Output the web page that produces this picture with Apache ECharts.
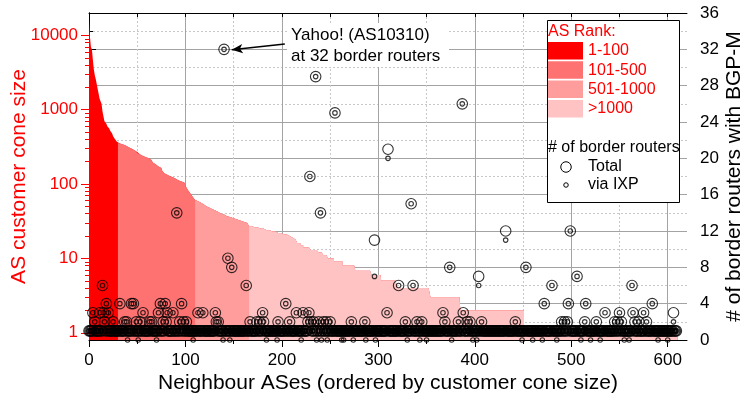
<!DOCTYPE html>
<html><head><meta charset="utf-8">
<script src="https://cdn.jsdelivr.net/npm/echarts@6/dist/echarts.min.js"></script>
<style>html,body{margin:0;padding:0;background:#fff}#c{width:749px;height:407px}</style>
</head><body><div id="c"></div>
<script>
// customer cone size of each neighbour AS (sorted)
const coneSize = [
16000,9500,7000,6500,4700,3500,2900,2600,2500,1900,
1800,1400,1300,1200,950,900,700,680,650,600,
590,560,520,500,480,440,420,400,380,370,
356,352,348,345,342,340,335,330,325,318,
314,310,306,300,295,290,285,280,275,270,
262,255,250,245,242,238,235,232,229,226,
224,222,220,218,210,200,195,190,185,180,
176,173,170,168,165,160,150,145,140,137,
134,131,129,127,126,125,124,123,120,118,
116,114,112,110,109,108,107,106,104,100,
95,90,85,80,78,75,72,70,66,63,
61,60,59,58,57,56,55,54,53,52,
51,50,49,48,48,47,46,46,45,44,
44,43,42,42,41,41,40,40,39,39,
38,38,37,37,36,36,35,35,35,34,
34,34,33,33,33,32,32,32,32,31,
31,31,31,30,30,30,27,27,27,27,
27,26,26,26,26,26,26,25,25,25,
25,25,25,24,24,24,24,24,24,23,
23,23,23,23,23,22,22,22,22,22,
22,21,21,21,21,20,20,20,20,19,
19,19,18,18,17,17,16,16,16,15,
15,15,14,14,14,14,14,14,14,14,
13,13,13,13,13,13,13,13,12,12,
12,12,12,11,11,11,11,11,10,10,
10,10,10,10,9,9,9,9,9,9,
9,9,9,8,8,8,8,8,8,8,
8,8,8,8,8,8,7,7,7,7,
7,7,7,7,7,7,7,7,7,7,
7,7,7,6,6,6,6,6,6,6,
6,6,6,5,5,5,5,5,5,5,
5,5,5,5,5,5,5,5,5,4,
4,4,4,4,4,4,4,4,4,4,
4,4,4,4,4,4,4,4,4,4,
4,4,4,4,4,4,4,4,4,4,
4,4,4,4,3,3,3,3,3,3,
3,3,3,3,3,3,3,3,3,3,
3,3,3,3,3,3,3,3,3,3,
3,3,3,3,3,2,2,2,2,2,
2,2,2,2,2,2,2,2,2,2,
2,2,2,2,2,2,2,2,2,2,
2,2,2,2,2,2,2,2,2,2,
2,2,2,2,2,2,2,2,2,2,
2,2,2,2,2,2,2,2,2,2,
2,2,2,2,2,2,2,2,2,2,
2,1,1,1,1,1,1,1,1,1,
1,1,1,1,1,1,1,1,1,1,
1,1,1,1,1,1,1,1,1,1,
1,1,1,1,1,1,1,1,1,1,
1,1,1,1,1,1,1,1,1,1,
1,1,1,1,1,1,1,1,1,1,
1,1,1,1,1,1,1,1,1,1,
1,1,1,1,1,1,1,1,1,1,
1,1,1,1,1,1,1,1,1,1,
1,1,1,1,1,1,1,1,1,1,
1,1,1,1,1,1,1,1,1,1,
1,1,1,1,1,1,1,1,1,1,
1,1,1,1,1,1,1,1,1,1,
1,1,1,1,1,1,1,1,1,1,
1,1,1,1,1,1,1,1,1,1,
1,1,1,1,1,1,1,1,1,1
];
// total number of border routers with BGP-M per neighbour
const totalRouters = [
1,1,1,1,3,1,2,1,1,1,
1,3,1,1,6,3,2,1,4,1,
3,1,1,1,1,2,1,1,1,1,
1,1,4,1,1,1,1,2,1,2,
1,1,1,1,4,1,4,1,1,2,
1,1,1,2,1,1,3,1,1,1,
1,1,1,2,1,2,1,1,1,1,
1,1,3,1,4,1,1,2,1,4,
2,3,1,1,1,1,1,3,1,1,
1,14,1,1,2,1,4,1,2,1,
1,2,1,1,1,1,1,1,1,1,
1,1,1,3,1,1,1,1,3,1,
1,1,1,1,1,1,1,1,1,1,
1,3,2,1,2,1,1,1,1,1,
32,1,1,1,9,1,1,1,8,1,
1,1,1,1,1,1,1,1,1,1,
1,1,1,6,1,1,1,2,1,1,
1,1,1,1,2,1,1,2,1,1,
3,2,1,1,1,1,1,1,1,1,
1,1,1,1,1,1,2,1,1,1,
1,1,1,1,4,1,1,1,2,1,
1,1,1,1,1,3,1,1,1,1,
1,1,3,1,1,1,1,2,3,18,
2,1,1,2,1,29,1,1,2,1,
14,1,1,2,1,1,2,1,1,1,
2,1,1,1,1,25,1,1,1,1,
1,1,1,1,1,1,1,1,1,1,
1,1,2,1,1,1,1,1,1,1,
1,1,1,1,1,1,2,1,1,1,
1,1,1,1,1,1,11,1,1,1,
1,1,1,1,1,1,1,1,1,3,
21,1,1,1,1,1,1,1,1,1,
1,6,1,1,1,1,1,1,2,1,
1,1,1,1,15,1,6,1,1,1,
2,1,1,1,1,2,1,1,1,1,
1,1,1,1,1,1,1,1,1,1,
1,1,1,1,1,1,1,3,1,2,
1,1,1,1,8,1,1,1,1,1,
1,1,1,2,1,1,1,26,3,1,
1,1,2,1,1,2,1,1,1,1,
1,1,1,1,7,1,1,2,1,1,
1,1,1,1,1,1,1,1,1,1,
1,1,1,1,1,1,1,1,1,1,
1,1,12,1,1,1,1,1,1,1,
1,1,2,1,1,1,1,1,1,1,
1,1,1,8,1,1,1,1,1,1,
1,1,1,1,1,1,1,1,1,1,
1,1,4,1,1,1,1,1,1,1,
6,1,1,1,1,1,1,1,1,1,
2,1,1,2,1,1,2,4,1,12,
1,1,1,1,1,1,7,1,1,1,
1,1,1,1,2,4,1,1,1,1,
1,1,1,1,1,1,2,1,1,1,
1,1,1,1,1,3,1,1,1,1,
1,1,1,1,1,2,1,1,2,1,
3,1,2,1,1,1,1,1,1,1,
1,1,1,6,3,1,2,1,1,1,
2,1,1,1,1,3,1,1,2,1,
1,1,1,1,4,1,1,1,1,1,
1,1,1,1,1,1,1,1,1,1,
1,1,1,1,1,1,3,1,1,1
];
// border routers reached via IXP per neighbour
const ixpRouters = [
1,1,1,1,3,1,2,1,1,1,
1,3,1,1,6,3,2,1,4,1,
3,1,1,1,1,2,1,1,1,1,
1,1,4,1,1,1,1,2,1,2,
0,1,1,1,4,1,4,1,1,2,
1,0,1,2,1,1,3,1,1,1,
1,1,1,2,1,2,1,1,1,1,
0,1,3,1,4,1,1,2,1,4,
2,3,1,1,1,1,1,3,1,1,
1,14,1,1,2,1,4,1,2,1,
1,2,1,1,1,1,1,1,0,1,
1,1,1,3,1,1,1,1,3,1,
1,1,1,1,1,1,1,1,1,1,
1,3,2,1,2,1,1,1,1,0,
32,1,1,1,9,1,0,1,8,1,
1,1,1,1,1,1,1,1,1,1,
1,1,1,6,1,1,1,2,1,1,
1,1,1,1,2,1,1,2,1,1,
3,2,1,1,0,1,1,1,1,1,
1,1,1,1,1,0,2,1,1,1,
1,1,1,1,4,1,1,1,2,1,
1,1,1,1,1,3,1,1,1,1,
0,1,3,1,1,1,1,2,3,18,
2,1,1,2,1,29,0,1,2,1,
14,0,1,2,1,1,2,0,1,1,
2,1,1,1,1,25,1,1,1,1,
1,1,0,1,0,1,1,1,1,1,
1,1,2,1,0,1,1,1,1,1,
1,1,1,1,1,1,2,0,1,1,
1,1,1,1,1,1,7,0,1,1,
1,1,1,1,1,1,1,1,1,3,
20,1,1,1,1,1,1,1,1,1,
1,6,1,1,1,1,1,1,2,1,
0,1,1,1,15,1,6,1,1,1,
2,1,1,0,1,2,1,1,1,1,
0,1,1,1,1,1,1,1,1,1,
1,1,1,1,1,1,1,3,1,2,
1,1,1,1,8,1,0,1,1,1,
1,1,1,2,1,1,1,26,3,1,
1,1,2,1,1,2,1,1,0,1,
1,1,0,1,6,1,1,2,1,1,
1,1,1,1,1,1,1,1,1,1,
1,1,1,1,1,1,1,1,1,1,
1,1,11,1,1,1,1,1,1,1,
1,1,2,1,1,1,1,1,1,0,
1,1,1,8,1,1,1,1,1,1,
0,1,1,1,1,1,1,1,1,1,
0,1,4,1,1,1,1,1,1,1,
6,1,1,1,1,0,1,1,1,1,
2,1,1,2,1,1,2,4,1,12,
1,1,1,1,1,1,7,1,1,1,
0,1,1,1,2,4,1,1,1,1,
0,1,1,1,1,1,2,1,1,1,
0,1,1,1,1,3,1,1,1,1,
1,1,1,1,1,2,1,1,2,1,
3,1,2,1,1,0,1,1,1,1,
0,1,1,6,3,1,2,1,1,1,
2,1,1,1,1,3,1,1,2,1,
1,1,1,1,4,1,1,1,1,1,
0,1,1,1,1,1,1,1,1,1,
0,1,1,1,1,1,2,1,1,1
];
const rankLabels = ['1-100', '101-500', '501-1000', '>1000'];
const rankGroupStarts = [0, 30, 110, 166];
const xTicks = [0, 100, 200, 300, 400, 500, 600];
const xMinorTicks = [50, 150, 250, 350, 450, 550];
const xTopTicks = [50, 100, 150, 200, 250, 300, 350, 400, 450, 500, 550, 600];
const coneTicks = [1, 10, 100, 1000, 10000];
const coneMinorTicks = [2,3,4,5,6,7,8,9,20,30,40,50,60,70,80,90,200,300,400,500,600,700,800,900,2000,3000,4000,5000,6000,7000,8000,9000];
const yahooIndex = 140;
const yahooLines = ['Yahoo! (AS10310)', 'at 32 border routers'];

// styles
const FONT = '"Liberation Sans", Arial, sans-serif';
const rankColors = ['#ff0000', '#ff7272', '#ff9c9c', '#ffc3c3'];
const gridSolid = '#a3a3a3';
const gridDash = '#c8c8c8';

const chart = echarts.init(document.getElementById('c'), null, {renderer: 'canvas'});

// each rank group is painted from its first neighbour to the end; later (smaller) groups cover the rest
const areaSeries = rankLabels.map((name, g) => {
  const s = rankGroupStarts[g];
  const n = coneSize.length;
  const data = [];
  for (let i = s; i < n; i++) data.push([i, coneSize[i]]);
  data.push([n, coneSize[n - 1]]);
  return {
    type: 'line', name, xAxisIndex: 0, yAxisIndex: 0, step: 'end', data,
    showSymbol: false, symbol: 'none', silent: true, z: 2 + g * 0.01,
    lineStyle: {width: 0, opacity: 0},
    areaStyle: {color: rankColors[g], opacity: 1, origin: 'start'}
  };
});

const ringStyle = {color: 'rgba(0,0,0,0)', borderColor: '#000', borderWidth: 1.1};

const option = {
  animation: false,
  textStyle: {fontFamily: FONT},
  grid: {left: 89, right: 62, top: 13, bottom: 67, containLabel: false, outerBoundsMode: 'none'},
  xAxis: [
    {type: 'value', min: 0, max: 620, position: 'bottom',
      axisLine: {show: true, onZero: false, lineStyle: {color: '#000', width: 1}},
      axisTick: {show: true, length: 7, customValues: xTicks, lineStyle: {color: '#000'}},
      axisLabel: {customValues: xTicks, color: '#000', fontSize: 17, margin: 12, fontFamily: FONT},
      splitLine: {show: true, lineStyle: {color: gridSolid, width: 1}},
      name: 'Neighbour ASes (ordered by customer cone size)', nameLocation: 'middle', nameGap: 33,
      nameMoveOverlap: false,
      nameTextStyle: {fontSize: 21, color: '#000', fontFamily: FONT}},
    {type: 'value', min: 0, max: 620, position: 'bottom',
      axisLine: {show: false},
      axisTick: {show: true, length: 4, customValues: xMinorTicks, lineStyle: {color: '#000'}},
      axisLabel: {show: false},
      splitLine: {show: true, lineStyle: {color: gridDash, width: 1, type: [2, 2]}}},
    {type: 'value', min: 0, max: 620, position: 'top',
      axisLine: {show: true, lineStyle: {color: '#000', width: 1}},
      axisTick: {show: true, inside: true, length: 4, customValues: xTopTicks, lineStyle: {color: '#000'}},
      axisLabel: {show: false}, splitLine: {show: false}}
  ],
  yAxis: [
    {type: 'log', logBase: 10, min: 0.8, max: 20000, position: 'left',
      axisLine: {show: true, lineStyle: {color: '#000', width: 1}},
      axisTick: {show: true, length: 8, customValues: coneTicks, lineStyle: {color: '#ff0000'}},
      axisLabel: {customValues: coneTicks, color: '#ff0000', fontSize: 17, margin: 11, fontFamily: FONT,
        formatter: v => String(v)},
      splitLine: {show: false},
      name: 'AS customer cone size', nameLocation: 'middle', nameRotate: 90, nameGap: 59,
      nameMoveOverlap: false,
      nameTextStyle: {fontSize: 21, color: '#ff0000', fontFamily: FONT}},
    {type: 'value', min: 0, max: 36, interval: 4, position: 'right',
      axisLine: {show: true, lineStyle: {color: '#000', width: 1}},
      axisTick: {show: true, length: 7, lineStyle: {color: '#000'}},
      minorTick: {show: true, splitNumber: 2, length: 4, lineStyle: {color: '#000'}},
      axisLabel: {color: '#000', fontSize: 17, margin: 13, fontFamily: FONT},
      splitLine: {show: true, lineStyle: {color: gridSolid, width: 1}},
      minorSplitLine: {show: true, lineStyle: {color: gridDash, width: 1, type: [2, 2]}},
      name: '# of border routers with BGP-M', nameLocation: 'middle', nameRotate: 90, nameGap: 37,
      nameMoveOverlap: false,
      nameTextStyle: {fontSize: 21, color: '#000', fontFamily: FONT}},
    {type: 'log', logBase: 10, min: 0.8, max: 20000, position: 'left',
      axisLine: {show: false},
      axisTick: {show: true, length: 4, customValues: coneMinorTicks, lineStyle: {color: '#ff0000'}},
      axisLabel: {show: false}, splitLine: {show: false}}
  ],
  series: areaSeries.concat([
    {type: 'scatter', name: 'Total', xAxisIndex: 0, yAxisIndex: 1, silent: true, z: 4,
      data: totalRouters.map((v, i) => [i, v]), symbol: 'circle', symbolSize: 10.5, itemStyle: ringStyle,
      markLine: {silent: true, symbol: ['none', 'arrow'], symbolSize: [7, 11], animation: false,
        label: {show: false}, lineStyle: {color: '#000', width: 1.5, type: 'solid'},
        data: [[{coord: [yahooIndex + 63, totalRouters[yahooIndex] + 0.6]}, {coord: [yahooIndex + 8, totalRouters[yahooIndex] - 0.05]}]]}},
    {type: 'scatter', name: 'via IXP', xAxisIndex: 0, yAxisIndex: 1, silent: true, z: 5,
      data: ixpRouters.map((v, i) => [i, v]), symbol: 'circle', symbolSize: 4.5, itemStyle: ringStyle}
  ]),
  graphic: [
    {type: 'rect', z: 100, shape: {x: 287, y: 23, width: 162, height: 44}, style: {fill: '#fff'}},
    {type: 'text', z: 101, x: 291, y: 35, style: {text: yahooLines[0], fill: '#000', font: '17px ' + FONT, align: 'left', verticalAlign: 'middle'}},
    {type: 'text', z: 101, x: 291, y: 56, style: {text: yahooLines[1], fill: '#000', font: '17px ' + FONT, align: 'left', verticalAlign: 'middle'}},
    {type: 'rect', z: 100, shape: {x: 547.5, y: 20.5, width: 132, height: 182}, style: {fill: '#fff', stroke: '#000', lineWidth: 1}},
    {type: 'text', z: 101, x: 548, y: 32, style: {text: 'AS Rank:', fill: '#ff0000', font: '16px ' + FONT, align: 'left', verticalAlign: 'middle'}},
    ...rankLabels.map((t, g) => ({type: 'rect', z: 101, shape: {x: 548, y: 42 + g * 19.3, width: 35, height: 17.5}, style: {fill: rankColors[g]}})),
    ...rankLabels.map((t, g) => ({type: 'text', z: 101, x: 588, y: 51 + g * 19.3, style: {text: t, fill: '#ff0000', font: '16px ' + FONT, align: 'left', verticalAlign: 'middle'}})),
    {type: 'text', z: 101, x: 548, y: 148, style: {text: '# of border routers', fill: '#000', font: '16px ' + FONT, align: 'left', verticalAlign: 'middle'}},
    {type: 'circle', z: 101, shape: {cx: 566, cy: 167, r: 5.25}, style: {fill: 'none', stroke: '#000', lineWidth: 1}},
    {type: 'text', z: 101, x: 588, y: 167, style: {text: 'Total', fill: '#000', font: '16px ' + FONT, align: 'left', verticalAlign: 'middle'}},
    {type: 'circle', z: 101, shape: {cx: 566, cy: 185, r: 2.25}, style: {fill: 'none', stroke: '#000', lineWidth: 1}},
    {type: 'text', z: 101, x: 588, y: 185, style: {text: 'via IXP', fill: '#000', font: '16px ' + FONT, align: 'left', verticalAlign: 'middle'}}
  ]
};
chart.setOption(option);
</script></body></html>
